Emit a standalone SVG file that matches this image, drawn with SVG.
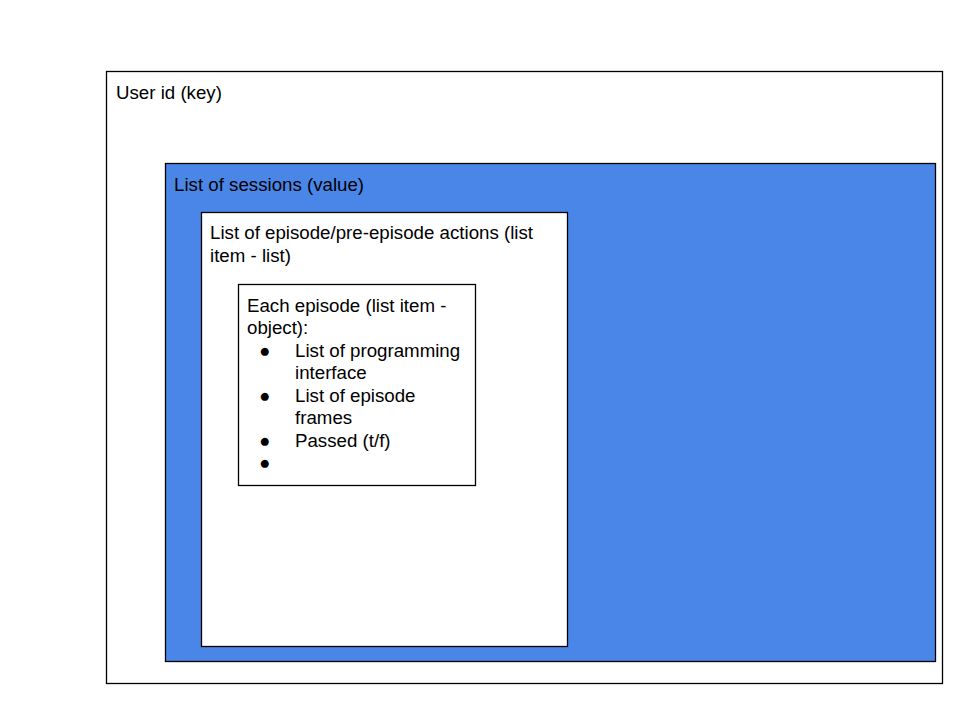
<svg xmlns="http://www.w3.org/2000/svg" width="960" height="720" viewBox="0 0 960 720">
<style>
.box{stroke:#000;stroke-width:1.3}
.t{font-family:"Liberation Sans",Arial,sans-serif;font-size:18.7px;fill:#000}
</style>
<rect width="960" height="720" fill="#fff"/>
<g id="user">
<rect class="box" x="106.5" y="71.5" width="836" height="612" fill="#fff"/>
<text class="t" x="116" y="99">User id (key)</text>
</g>
<g id="sessions">
<rect class="box" x="165.5" y="163.5" width="770" height="498" fill="#4a86e8"/>
<text class="t" x="174" y="191">List of sessions (value)</text>
</g>
<g id="actions">
<rect class="box" x="201.5" y="212.5" width="366" height="434" fill="#fff"/>
<text class="t" x="210" y="239">List of episode/pre-episode actions (list</text>
<text class="t" x="210" y="262">item - list)</text>
</g>
<g id="episode">
<rect class="box" x="238.5" y="284.5" width="237" height="201" fill="#fff"/>
<text class="t" x="247" y="312">Each episode (list item -</text>
<text class="t" x="247" y="334">object):</text>
<text class="t" x="259" y="357">●</text>
<text class="t" x="295" y="357">List of programming</text>
<text class="t" x="295" y="379">interface</text>
<text class="t" x="259" y="402">●</text>
<text class="t" x="295" y="402">List of episode</text>
<text class="t" x="295" y="424">frames</text>
<text class="t" x="259" y="447">●</text>
<text class="t" x="295" y="447">Passed (t/f)</text>
<text class="t" x="259" y="469">●</text>
</g>
<g id="connectors"></g>
</svg>
